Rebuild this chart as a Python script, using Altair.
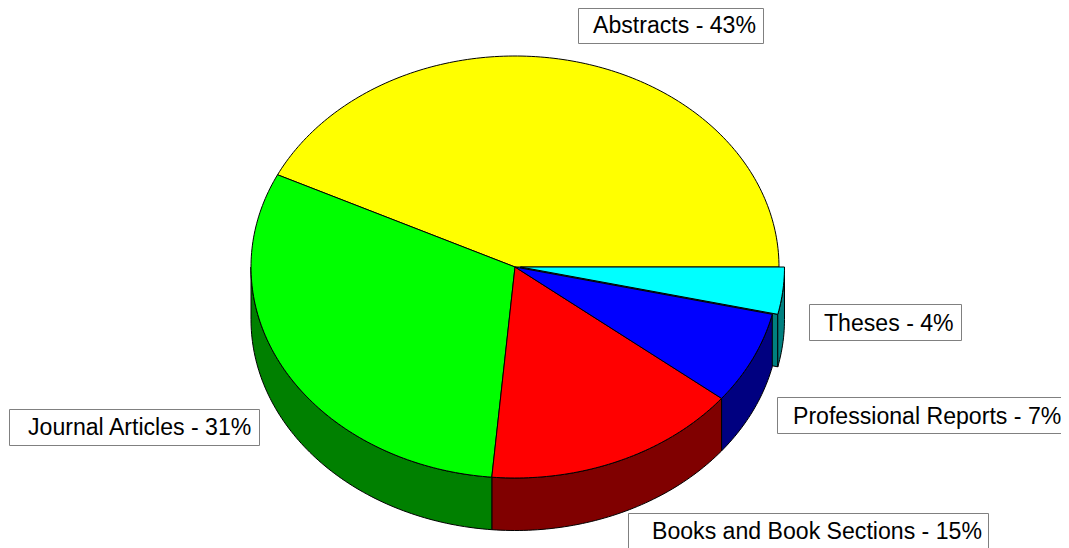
import math
import altair as alt

# chart values
categories = ["Theses", "Professional Reports", "Books and Book Sections", "Journal Articles", "Abstracts"]
shares = [3.6, 7.1, 15.7, 30.8, 42.8]
printed = [4, 7, 15, 31, 43]
top_colors = ["#00ffff", "#0000ff", "#ff0000", "#00ff00", "#ffff00"]
side_colors = ["#008080", "#000080", "#800000", "#008000", "#808000"]

# layout of the tilted pie (reference pixels)
CX, CY, RX, RY, DEPTH = 515, 267, 264, 211, 52.5
EXPLODE = [5.5, 0, 0, 0, 0]
W, H, MARGIN = 1069, 548, 8
DRAW_W, DRAW_H = 1053, 540

# label boxes: left, right, top, bottom, text x, baseline y
boxes = [
    (809.5, 961.5, 304.5, 340.5, 824, 331),
    (777.5, 1085, 397.5, 433.5, 793, 424),
    (628.5, 988.5, 513.5, 560, 652, 539),
    (9.5, 259.5, 409.5, 445.5, 28, 434.5),
    (578.5, 763.5, 8.5, 43.5, 593, 33),
]


def pt(t, dx=0.0, dy=0.0):
    a = math.radians(t)
    return [CX + dx + RX * math.cos(a), CY + dy + RY * math.sin(a)]


def arc(a, b, dx=0.0, dy=0.0):
    n = max(2, int(abs(b - a)) + 2)
    return [pt(a + (b - a) * i / (n - 1), dx, dy) for i in range(n)]


def feature(ring, fill):
    return {
        "type": "Feature",
        "properties": {"fill": fill},
        "geometry": {"type": "Polygon", "coordinates": [ring + [ring[0]]]},
    }


bounds = []
c = 0.0
for s in shares:
    bounds.append((c * 3.6, (c + s) * 3.6))
    c += s

back, tops = [], []
for i, (a, b) in enumerate(bounds):
    dx = EXPLODE[i]
    if dx:  # cut face visible beside an exploded slice
        e = pt(b, dx)
        back.append(feature([[CX + dx, CY], e, [e[0], e[1] + DEPTH], [CX + dx, CY + DEPTH]], side_colors[i]))
    lo, hi = max(a, 0), min(b, 180)
    if hi > lo:
        back.append(feature(arc(lo, hi, dx) + arc(hi, lo, dx, DEPTH), side_colors[i]))
    tops.append(feature([[CX + dx, CY]] + arc(a, b, dx), top_colors[i]))

features = back + tops[::-1]

pie = (
    alt.Chart(alt.InlineData(values={"type": "FeatureCollection", "features": features},
                             format=alt.DataFormat(property="features", type="json")))
    .mark_geoshape(stroke="black", strokeWidth=1)
    .encode(color=alt.Color("properties.fill:N", scale=None, legend=None))
    .project(type="identity", scale=1, translate=[-MARGIN, -MARGIN])
)

rows = [
    {"label": f"{n} - {p}%", "x0": b[0], "x1": b[1], "y0": b[2], "y1": b[3], "tx": b[4], "ty": b[5]}
    for n, p, b in zip(categories, printed, boxes)
]
xs = alt.Scale(domain=[MARGIN, W], range=[0, W - MARGIN])
ys = alt.Scale(domain=[MARGIN, H], range=[0, H - MARGIN])
rects = (
    alt.Chart(alt.Data(values=rows))
    .mark_rect(fill="white", stroke="#808080", strokeWidth=1)
    .encode(
        x=alt.X("x0:Q", scale=xs, axis=None),
        x2="x1:Q",
        y=alt.Y("y0:Q", scale=ys, axis=None),
        y2="y1:Q",
    )
)
texts = (
    alt.Chart(alt.Data(values=rows))
    .mark_text(align="left", baseline="alphabetic", font="Liberation Sans", fontSize=23.1, color="black")
    .encode(
        x=alt.X("tx:Q", scale=xs, axis=None),
        y=alt.Y("ty:Q", scale=ys, axis=None),
        text="label:N",
    )
)

chart = (
    alt.layer(pie, rects, texts)
    .properties(width=DRAW_W, height=DRAW_H, padding=0, background="white",
                autosize=alt.AutoSizeParams(type="none"))
    .configure_view(stroke=None)
)
chart.save("out.html", embed_options={"renderer": "svg", "actions": False})
